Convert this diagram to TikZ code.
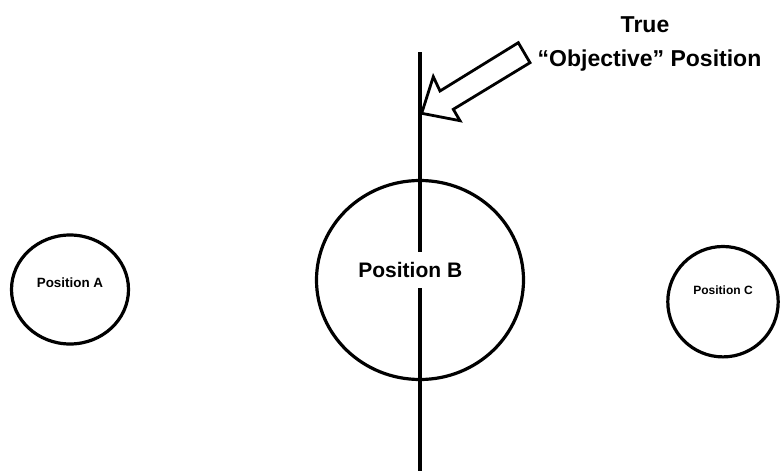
\documentclass[tikz,border=0pt]{standalone}
\usepackage{fontspec}
\setmainfont{Liberation Sans}
\begin{document}
\begin{tikzpicture}[x=1pt,y=-1pt,
  ring/.style={draw=black,line width=3.2pt},
  lbl/.style={font=\bfseries,inner sep=0pt},
  axisline/.style={draw=black,line width=3.6pt},
  blockarrow/.style={draw=black,line width=2.8pt,line join=miter,fill=white}]
\useasboundingbox (0,0) rectangle (782,471);
% ellipses
\draw[ring] (70,289.5) ellipse [x radius=58.5,y radius=54.5];
\draw[ring] (420,280) ellipse [x radius=103.5,y radius=99.5];
\draw[ring] (723,301.7) ellipse [x radius=55.2,y radius=55.2];
% labels
\node[lbl,font=\bfseries\fontsize{13.4}{16}\selectfont] (pa) at (70,283) {Position A};
\node[lbl,font=\bfseries\fontsize{21}{25}\selectfont,minimum height=36pt] (pb) at (410.3,270) {Position B};
\node[lbl,font=\bfseries\fontsize{12}{15}\selectfont] (pc) at (723,290) {Position C};
% vertical line broken by the label
\coordinate (top) at (420,52);
\coordinate (bot) at (420,471);
\draw[axisline] (top) -- (top |- pb.north);
\draw[axisline] (pb.south -| top) -- (bot);
% block arrow
\coordinate (tip) at (421.7,113.3);
\draw[blockarrow] (tip) -- (433.3,76.7) -- (440,91) -- (518.3,42.7) -- (530,62.7)
  -- (453.3,109.3) -- (460,120.7) -- cycle;
% title
\node[lbl,font=\bfseries\fontsize{23}{27}\selectfont,anchor=base] (t1) at (645,32) {True};
\node[lbl,font=\bfseries\fontsize{23}{27}\selectfont,anchor=base] (t2) at (649.5,66) {“Objective” Position};
\end{tikzpicture}
\end{document}
